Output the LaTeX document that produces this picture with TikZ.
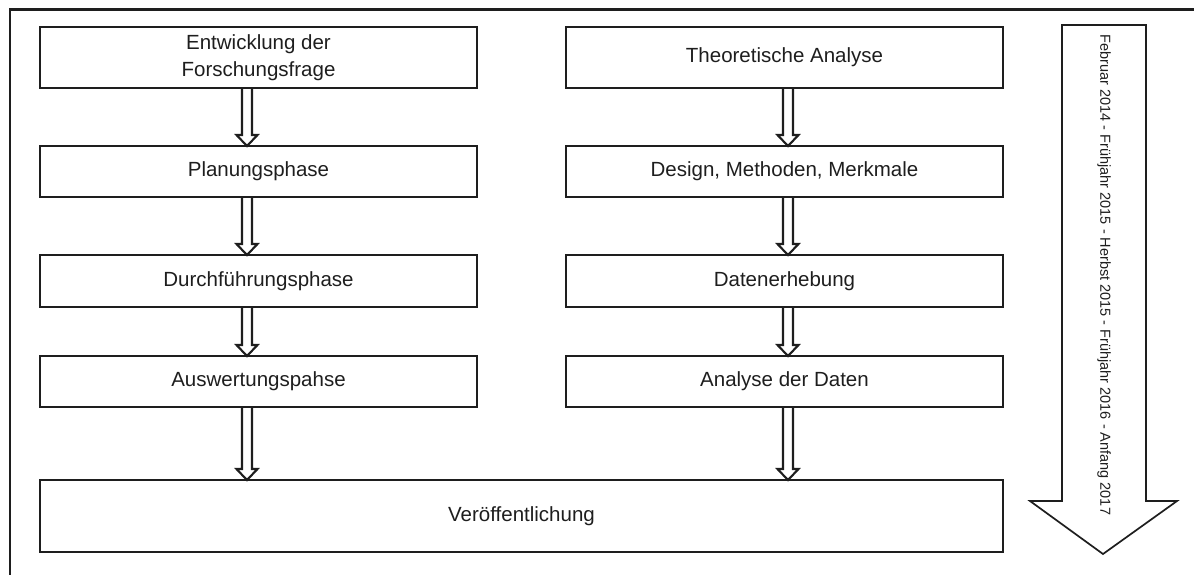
\documentclass[tikz,border=0pt]{standalone}
\usepackage{fontspec}
\setmainfont{Liberation Sans}
\usetikzlibrary{calc}
\definecolor{ink}{HTML}{1E1E1E}
\tikzset{
  phase/.style={draw=ink, line width=2.1pt, text=ink, font=\fontsize{20.5}{27}\selectfont,
    align=center, inner sep=0pt, outer sep=0pt},
  leftbox/.style={phase, minimum width=437pt},
  rightbox/.style={phase, minimum width=437pt},
  dblarrow/.style={draw=ink, line width=2.1pt, line join=miter},
  bigarrow/.style={draw=ink, line width=1.7pt, fill=white, line join=miter},
}
\begin{document}
\begin{tikzpicture}[x=1pt, y=-1pt]
\useasboundingbox (0,0) rectangle (1194,574);
% outer frame (left and top edges visible)
\draw[ink, line width=2.1pt] (10,580) -- (10,9.5) -- (1200,9.5);

% left column
\node[leftbox, minimum height=61pt] (l1) at (258.5,57.5) {Entwicklung der\\Forschungsfrage};
\node[leftbox, minimum height=51pt] (l2) at (258.5,171.5) {Planungsphase};
\node[leftbox, minimum height=52pt] (l3) at (258.5,281) {Durchführungsphase};
\node[leftbox, minimum height=51pt] (l4) at (258.5,381.5) {Auswertungspahse};
% right column
\node[rightbox, minimum height=61pt] (r1) at (784.5,57.5) {Theoretische Analyse};
\node[rightbox, minimum height=51pt] (r2) at (784.5,171.5) {Design, Methoden, Merkmale};
\node[rightbox, minimum height=52pt] (r3) at (784.5,281) {Datenerhebung};
\node[rightbox, minimum height=51pt] (r4) at (784.5,381.5) {Analyse der Daten};
% final
\node[phase, minimum width=963pt, minimum height=72pt] (v) at (521.5,516) {Veröffentlichung};

% double arrows
\newcommand{\dblarr}[3]{%
  \draw[dblarrow] let \p1=($(#1.south)+(#3,0)$), \p2=($(#2.north)+(#3,0)$) in
    (\x1-5pt,\y1) -- (\x1-5pt,\y2+11pt) -- (\x1-10.5pt,\y2+11pt) -- (\x1,\y2)
    -- (\x1+10.5pt,\y2+11pt) -- (\x1+5pt,\y2+11pt) -- (\x1+5pt,\y1);}
\dblarr{l1}{l2}{-11.5}
\dblarr{l2}{l3}{-11.5}
\dblarr{l3}{l4}{-11.5}
\dblarr{l4}{v}{-11.5}
\dblarr{r1}{r2}{3.5}
\dblarr{r2}{r3}{3.5}
\dblarr{r3}{r4}{3.5}
\coordinate (vr) at (788,480);
\draw[dblarrow] let \p1=(r4.south), \p2=(vr) in
    (\x2-5pt,\y1) -- (\x2-5pt,\y2+11pt) -- (\x2-10.5pt,\y2+11pt) -- (\x2,\y2)
    -- (\x2+10.5pt,\y2+11pt) -- (\x2+5pt,\y2+11pt) -- (\x2+5pt,\y1);

% big time arrow
\draw[bigarrow] (1062,25) -- (1146,25) -- (1146,501) -- (1177,501) -- (1103,554)
  -- (1030,501) -- (1062,501) -- cycle;
\node[rotate=-90, text=ink, font=\fontsize{14.5}{17}\selectfont, inner sep=0pt] (t) at (1104,275)
  {Februar 2014 - Frühjahr 2015 - Herbst 2015 - Frühjahr 2016 - Anfang 2017};
\end{tikzpicture}
\end{document}
